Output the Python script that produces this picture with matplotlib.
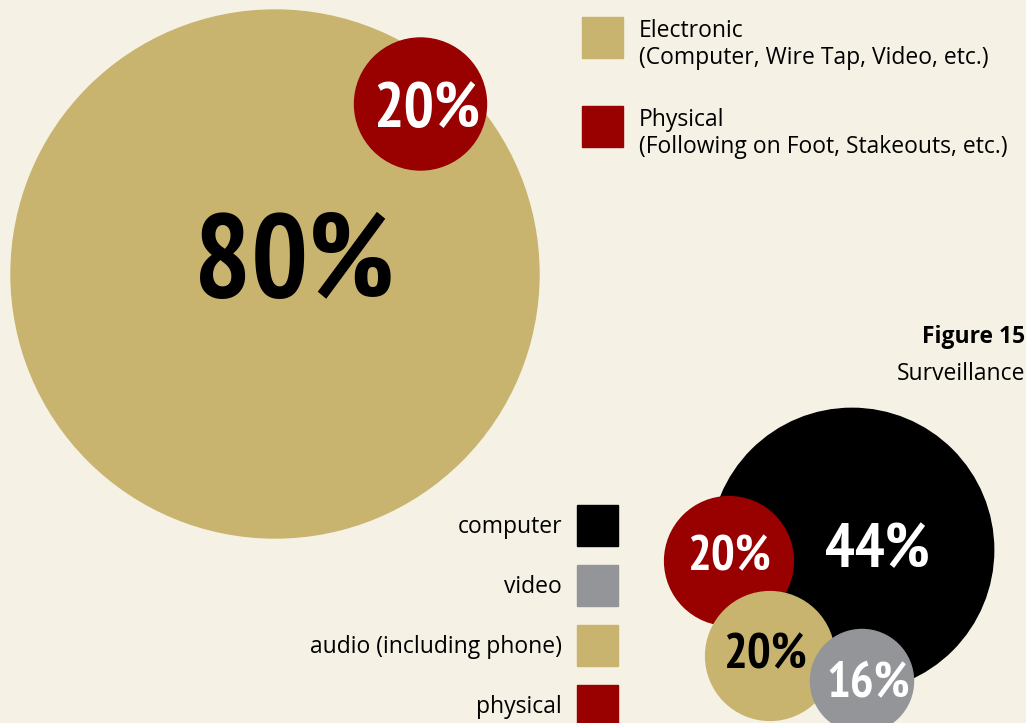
import matplotlib.pyplot as plt
from matplotlib.patches import Circle, Rectangle

# surveillance split: electronic vs physical
top_labels = ["Electronic", "Physical"]
top_notes = ["(Computer, Wire Tap, Video, etc.)", "(Following on Foot, Stakeouts, etc.)"]
top_values = [80, 20]

# breakdown by method
method_labels = ["computer", "video", "audio (including phone)", "physical"]
method_values = [44, 16, 20, 20]

bg = "#f5f1e4"
tan = "#c8b46e"
red = "#990000"
gray = "#949599"
black = "#000000"

# circle radius in pixels per percent, one scale per cluster
top_scale = 3.3
bottom_scale = 3.22

big = "PT Sans Narrow"
txt = "Open Sans"
fs = 16.5

fig = plt.figure(figsize=(10.26, 7.23), dpi=100, facecolor=bg)
ax = fig.add_axes([0, 0, 1, 1])
ax.set_xlim(0, 1026)
ax.set_ylim(723, 0)
ax.set_aspect("equal")
ax.axis("off")
ax.set_facecolor(bg)

# ---- top pair of circles
top_colors = [tan, red]
top_centers = [(275, 274), (420.5, 104)]
top_txt_pos = [(294, 297), (426.5, 127)]
top_txt_size = [86, 46]
top_txt_col = ["black", "white"]
for i, v in enumerate(top_values):
    ax.add_patch(Circle(top_centers[i], v * top_scale, color=top_colors[i], zorder=2 + i))
    ax.text(top_txt_pos[i][0], top_txt_pos[i][1], f"{v}%", fontsize=top_txt_size[i],
            family=big, weight="bold", color=top_txt_col[i], ha="center", va="baseline",
            zorder=10)

# legend for top pair
leg_y = [17, 106]
for i, lab in enumerate(top_labels):
    ax.add_patch(Rectangle((582, leg_y[i]), 41, 41, color=top_colors[i], zorder=2))
    ax.text(639, leg_y[i] + 20, lab, fontsize=fs, family=txt, va="baseline")
    ax.text(639, leg_y[i] + 47, top_notes[i], fontsize=fs, family=txt, va="baseline")

ax.text(1025, 343, "Figure 15", fontsize=fs, family=txt, weight="bold", ha="right", va="baseline")
ax.text(1025, 380, "Surveillance", fontsize=fs, family=txt, ha="right", va="baseline")

# ---- bottom cluster
m_colors = [black, gray, tan, red]
m_centers = [(852, 550), (862, 681), (770, 656), (729, 561)]
m_z = [2, 5, 4, 3]
m_txt_pos = [(877, 567), (868, 697), (765, 668), (729, 570)]
m_txt_size = [45, 36, 36, 36]
m_txt_col = ["white", "white", "black", "white"]
for i, v in enumerate(method_values):
    ax.add_patch(Circle(m_centers[i], v * bottom_scale, color=m_colors[i], zorder=m_z[i]))
    ax.text(m_txt_pos[i][0], m_txt_pos[i][1], f"{v}%", fontsize=m_txt_size[i],
            family=big, weight="bold", color=m_txt_col[i], ha="center", va="baseline",
            zorder=10)

# legend for methods
for i, lab in enumerate(method_labels):
    y0 = 505 + 60 * i
    ax.add_patch(Rectangle((577, y0), 41, 41, color=m_colors[i], zorder=2))
    ax.text(562, y0 + 28, lab, fontsize=fs, family=txt, ha="right", va="baseline")

fig.savefig("out.png", dpi=100, facecolor=bg)
